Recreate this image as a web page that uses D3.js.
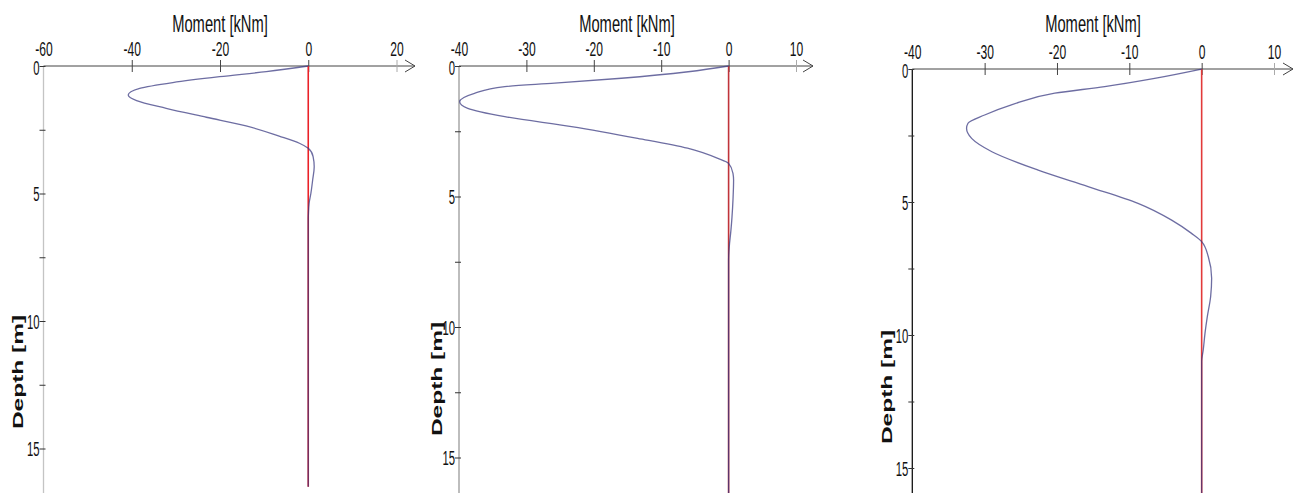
<!DOCTYPE html>
<html><head><meta charset="utf-8">
<script src="https://cdn.jsdelivr.net/npm/d3@7"></script>
<style>body{margin:0;background:#fff}svg{display:block}text{font-family:"Liberation Sans",Arial,sans-serif}</style>
</head><body>
<svg id="c" width="1301" height="493"></svg>
<script>
// ---- data ----
const xTicks1 = [-60, -40, -20, 0, 20];
const xTicks2 = [-40, -30, -20, -10, 0, 10];
const xTicks3 = [-40, -30, -20, -10, 0, 10];
const yTicks = [0, 2.5, 5, 7.5, 10, 12.5, 15];

const depth1  = [0, 0.22, 0.42, 0.65, 0.88, 1.14, 1.36, 1.66, 2.01, 2.35, 2.75, 3.03, 3.23, 3.55, 3.95, 4.47, 4.99, 5.38, 5.76, 6.0, 16.5];
const moment1 = [0, -9.5, -20.1, -30.7, -38.2, -40.8, -38.9, -32.2, -23.1, -14.1, -6.6, -2.0, 0, 1.1, 1.35, 1.0, 0.6, 0.2, 0.05, 0, 0];

const depth2  = [0, 0.22, 0.47, 0.66, 0.79, 1.05, 1.37, 1.62, 1.94, 2.32, 2.77, 3.15, 3.54, 3.73, 4.11, 4.37, 5.13, 5.8, 6.28, 6.92, 7.43, 16.5];
const moment2 = [0, -6.0, -15.9, -25.8, -33.2, -37.7, -39.9, -38.7, -33.2, -23.3, -13.5, -6.1, -1.6, 0, 0.65, 0.74, 0.65, 0.5, 0.35, 0.1, 0, 0];

const depth3  = [0, 0.35, 0.66, 0.91, 1.35, 1.73, 2.04, 2.23, 2.61, 3.11, 3.80, 4.42, 5.05, 5.68, 6.18, 6.49, 7.06, 7.87, 8.56, 9.31, 9.94, 10.56, 11.0, 16.0];
const moment3 = [0, -6.5, -13.4, -20.3, -26.3, -30.0, -32.3, -32.5, -31.8, -29.0, -22.6, -15.7, -8.8, -4.15, -1.4, 0, 0.92, 1.38, 1.24, 0.78, 0.46, 0.22, 0, 0];

const pileLen = [16.5, 16.5, 16.0];

// ---- layout ----
const panels = [
  {xd:[-60,20], xr:[43.5,396.5], y0:66, y5:193.5, arrow:415, ticks:xTicks1, depth:depth1, moment:moment1, len:pileLen[0],
   titleX:220, labelX:18, labelY:372, yAxisColor:"#c4c4c4", red:"#ea2228"},
  {xd:[-40,10], xr:[459,796], y0:66, y5:196.5, arrow:813, ticks:xTicks2, depth:depth2, moment:moment2, len:pileLen[1],
   titleX:627, labelX:437, labelY:379, yAxisColor:"#9a9a9a", red:"#c0343a"},
  {xd:[-40,10], xr:[912.3,1274], y0:69, y5:202, arrow:1293, ticks:xTicks3, depth:depth3, moment:moment3, len:pileLen[2],
   titleX:1093, labelX:887, labelY:387, yAxisColor:"#111", red:"#e23a3a"}
];

const svg = d3.select("#c");
const fmt = d => String(d);

panels.forEach((p, i) => {
  const x = d3.scaleLinear().domain(p.xd).range(p.xr);
  const y = d3.scaleLinear().domain([0,5]).range([p.y0, p.y5]);
  const g = svg.append("g");

  // y axis line
  g.append("line").attr("x1", x(p.xd[0])).attr("x2", x(p.xd[0]))
    .attr("y1", p.y0).attr("y2", 493).attr("stroke", p.yAxisColor).attr("stroke-width", 1.3);

  // y axis ticks
  const ya = g.append("g").attr("transform", `translate(${x(p.xd[0])},0)`)
    .call(d3.axisLeft(y).tickValues(yTicks).tickSize(4).tickPadding(0)
      .tickFormat(d => d % 5 === 0 ? fmt(d) : ""));
  ya.select(".domain").remove();
  ya.selectAll(".tick line").attr("x1", 2).attr("stroke", "#333");
  ya.selectAll(".tick text").attr("x", 0).attr("dy", (d) => d === 0 ? "0.42em" : "0.36em")
    .attr("transform", "translate(-4,0) scale(0.58,1)")
    .style("font-size", "19.5px").attr("fill", "#111");

  // x axis line + arrow
  g.append("line").attr("x1", x(p.xd[0])).attr("x2", p.arrow)
    .attr("y1", p.y0).attr("y2", p.y0).attr("stroke", "#444").attr("stroke-width", 1);
  g.append("path").attr("d", `M${p.arrow-10},${p.y0-6}L${p.arrow},${p.y0}L${p.arrow-10},${p.y0+6}`)
    .attr("fill", "none").attr("stroke", "#444").attr("stroke-width", 1);

  const xa = g.append("g").attr("transform", `translate(0,${p.y0})`)
    .call(d3.axisTop(x).tickValues(p.ticks).tickSize(6).tickPadding(4.5).tickFormat(fmt));
  xa.select(".domain").remove();
  xa.selectAll(".tick line").attr("y1", 6)
    .attr("stroke", (d, j, n) => j === n.length - 1 ? "#aaa" : (j === 0 ? "none" : "#444"));
  xa.selectAll(".tick text").attr("x", 0).attr("transform", "scale(0.62,1)")
    .style("font-size", "19.5px").attr("fill", "#111");

  // title
  g.append("text").attr("x", 0).attr("y", 0)
    .attr("transform", `translate(${p.titleX},32) scale(0.64,1)`)
    .attr("text-anchor", "middle").style("font-size", "23px").attr("fill", "#111")
    .text("Moment [kNm]");

  // y label
  g.append("text").attr("x", 0).attr("y", 0).attr("dy", "0.35em")
    .attr("transform", `translate(${p.labelX},${p.labelY}) rotate(-90) scale(1,0.6)`)
    .attr("text-anchor", "middle").style("font-size", "24.5px").style("font-weight", "bold").attr("fill", "#111")
    .text("Depth [m]");

  // red zero line (pile)
  g.append("line").attr("x1", x(0)).attr("x2", x(0)).attr("y1", y(0)).attr("y2", y(p.len))
    .attr("stroke", p.red).attr("stroke-width", 1.6);

  // moment curve
  const pts = p.depth.map((d, k) => [p.moment[k], d]);
  const line = d3.line().x(d => x(d[0])).y(d => y(d[1])).curve(d3.curveMonotoneY);
  g.append("path").datum(pts).attr("d", line)
    .attr("fill", "none").attr("stroke", "#34347e").attr("stroke-opacity", 0.72).attr("stroke-width", 1.3);
});
</script>
</body></html>
